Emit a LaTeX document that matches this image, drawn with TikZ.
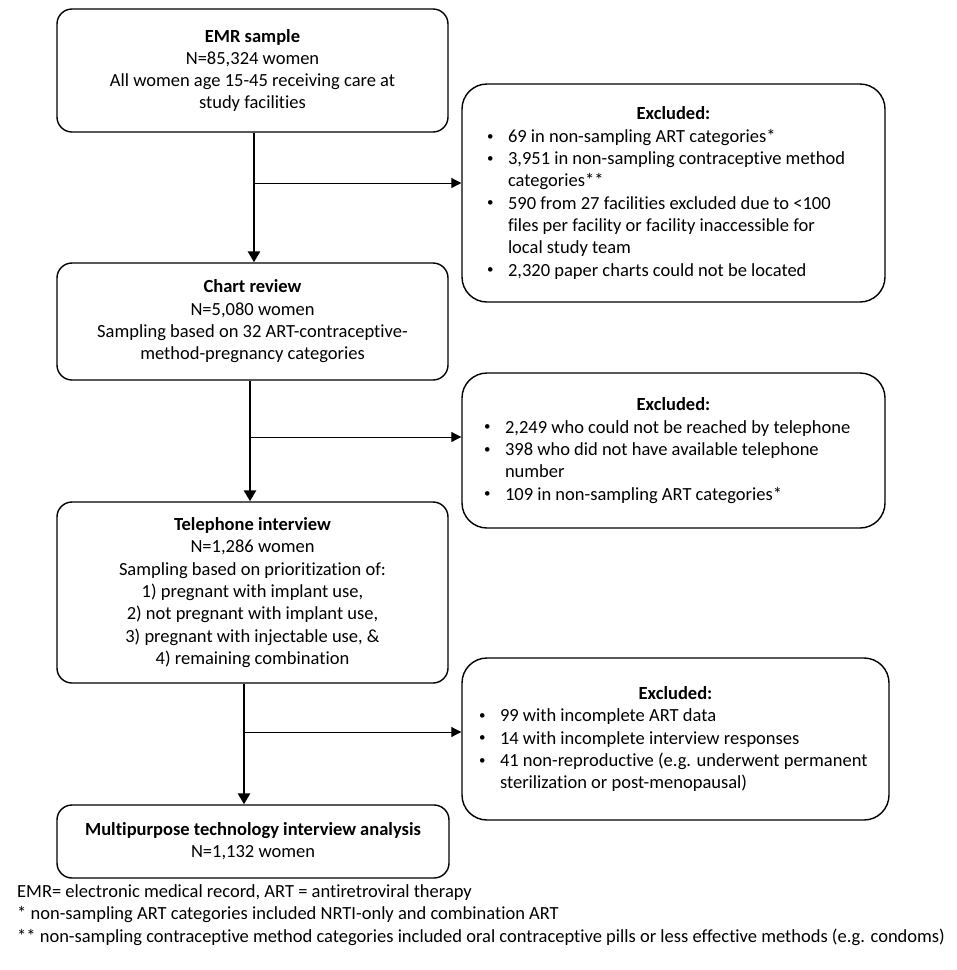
\documentclass[tikz,border=0pt]{standalone}
\usepackage{fontspec}
\setmainfont{Carlito}[Ligatures=NoCommon]
\usetikzlibrary{arrows.meta,calc}
\newcommand\exlabel[1]{#1\hfil}
\newcommand\smallbullet{\raisebox{0.25ex}{\scalebox{0.7}{\textbullet}}}
\newenvironment{exlist}{\begin{list}{\smallbullet}{\setlength\leftmargin{21pt}\setlength\labelwidth{21pt}\setlength\labelsep{0pt}\setlength\itemsep{0pt}\setlength\parsep{0pt}\setlength\topsep{0pt}\setlength\partopsep{0pt}\let\makelabel\exlabel}\raggedright}{\end{list}}
\tikzset{
  basefont/.style={font=\fontsize{18.5}{22.3}\selectfont},
  mainbox/.style={draw, line width=1.4pt, rounded corners=15pt, minimum width=391pt, align=center, inner sep=0pt, basefont},
  exbox/.style={draw, line width=1.4pt, rounded corners=25pt, minimum width=423pt, inner sep=0pt, basefont},
  mainarr/.style={line width=2.8pt, -{Triangle[length=11pt,width=12pt]}},
  brarr/.style={line width=1pt, -{Triangle[length=10pt,width=10pt]}},
  foot/.style={align=left, inner sep=0pt, anchor=west, basefont}
}
\begin{document}
\begin{tikzpicture}[x=1pt,y=-1pt]
\fill[white] (0,0) rectangle (957,970);
\useasboundingbox (0,0) rectangle (957,970);

\node[mainbox, minimum height=123pt] (b1) at (252.5,70.5)
  {\textbf{EMR sample}\\N=85,324 women\\All women age 15-45 receiving care at\\study facilities};
\node[mainbox, minimum height=117pt] (b2) at (252.5,321.5)
  {\textbf{Chart review}\\N=5,080 women\\Sampling based on 32 ART-contraceptive-\\method-pregnancy categories};
\node[mainbox, minimum height=181pt] (b3) at (252.5,592.5)
  {\textbf{Telephone interview}\\N=1,286 women\\Sampling based on prioritization of:\\1) pregnant with implant use,\\2) not pregnant with implant use,\\3) pregnant with injectable use, \&\\4) remaining combination};
\node[mainbox, minimum width=392pt, minimum height=73pt] (b4) at (253,841.5)
  {\textbf{Multipurpose technology interview analysis}\\N=1,132 women};

\node[exbox, minimum height=218pt] (ex1) at (673.5,193)
  {\begin{minipage}{373pt}{\centering\textbf{Excluded:}\par}
  \begin{exlist}
  \item 69 in non-sampling ART categories*
  \item 3,951 in non-sampling contraceptive method\newline categories**
  \item 590 from 27 facilities excluded due to <100\newline files per facility or facility inaccessible for\newline local study team
  \item 2,320 paper charts could not be located
  \end{exlist}\end{minipage}};
\node[exbox, minimum height=155pt] (ex2) at (673.5,450.5)
  {\begin{minipage}{379pt}{\centering\textbf{Excluded:}\par}
  \begin{exlist}
  \item 2,249 who could not be reached by telephone
  \item 398 who did not have available telephone\newline number
  \item 109 in non-sampling ART categories*
  \end{exlist}\end{minipage}};
\node[exbox, minimum width=427pt, minimum height=162pt] (ex3) at (675.5,739)
  {\begin{minipage}{393pt}{\centering\textbf{Excluded:}\par}
  \begin{exlist}
  \item 99 with incomplete ART data
  \item 14 with incomplete interview responses
  \item 41 non-reproductive (e.g. underwent permanent\newline sterilization or post-menopausal)
  \end{exlist}\end{minipage}};

\draw[mainarr] ([xshift=1.5pt]b1.south) -- ([xshift=1.5pt]b1.south |- b2.north);
\draw[mainarr] ([xshift=-2.5pt]b2.south) -- ([xshift=-2.5pt]b2.south |- b3.north);
\draw[mainarr] ([xshift=-8.5pt]b3.south) -- ([xshift=-8.5pt]b3.south |- b4.north);

\coordinate (j1) at (254,183);
\coordinate (j2) at (250,437);
\coordinate (j3) at (244,732);
\draw[brarr] (j1) -- (j1 -| ex1.west);
\draw[brarr] (j2) -- (j2 -| ex2.west);
\draw[brarr] (j3) -- (j3 -| ex3.west);

\node[foot] (fn) at (17,915)
  {EMR= electronic medical record, ART = antiretroviral therapy\\
   * non-sampling ART categories included NRTI-only and combination ART\\
   ** non-sampling contraceptive method categories included oral contraceptive pills or less effective methods (e.g. condoms)};
\end{tikzpicture}
\end{document}
